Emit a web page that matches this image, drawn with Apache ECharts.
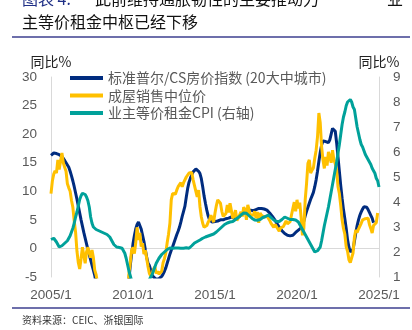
<!DOCTYPE html>
<html>
<head>
<meta charset="utf-8">
<script src="https://cdn.jsdelivr.net/npm/echarts@6/dist/echarts.min.js"></script>
<style>
html,body{margin:0;padding:0;background:#fff;}
#chart{width:412px;height:330px;}
</style>
</head>
<body>
<div id="chart"></div>
<script>
// Monthly categories 2005/1 .. 2025/1
var categories = [];
for (var y = 2005; y <= 2025; y++) {
  for (var m = 1; m <= 12; m++) {
    if (y === 2025 && m > 1) break;
    categories.push(y + '/' + m);
  }
}
var xTickLabels = ['2005/1', '2010/1', '2015/1', '2020/1', '2025/1'];
var leftTicks = [-5, 0, 5, 10, 15, 20, 25, 30];
var rightTicks = [1, 2, 3, 4, 5, 6, 7, 8, 9];

var seriesNames = ['标准普尔/CS房价指数 (20大中城市)', '成屋销售中位价', '业主等价租金CPI (右轴)'];

// S&P/Case-Shiller 20-city YoY %, 2005/1 .. 2024/9
var csIndex = [
  16.3, 16.5, 16.7, 16.7, 16.6, 16.5, 16.4, 16.3, 16.1, 15.8, 15.4, 15.0,
  14.6, 14.2, 13.5, 12.7, 11.8, 10.8, 9.7, 8.6, 7.4, 6.2, 5.0, 3.9,
  2.8, 1.8, 0.8, -0.2, -1.1, -2.0, -2.9, -3.8, -4.7, -6.1, -7.7, -9.1,
  -10.7, -12.7, -14.4, -15.3, -15.8, -15.9, -16.3, -17.4, -17.9, -18.1, -18.2, -18.6,
  -18.9, -18.8, -18.6, -18.1, -17.0, -15.4, -13.3, -11.3, -8.5, -5.5, -3.0, -1.0,
  0.8, 2.2, 3.4, 4.2, 4.6, 4.3, 3.4, 2.3, 1.2, -0.2, -1.5, -2.6,
  -3.0, -3.8, -4.6, -5.0, -5.3, -5.4, -5.4, -5.3, -5.1, -4.9, -4.5, -4.0,
  -3.4, -2.6, -1.8, -1.0, -0.3, 0.3, 1.0, 1.7, 2.4, 3.0, 3.7, 4.6,
  5.6, 6.5, 7.4, 9.0, 10.5, 11.6, 12.3, 12.9, 13.4, 13.7, 13.9, 13.8,
  13.5, 13.1, 12.2, 10.8, 9.2, 7.9, 6.7, 5.7, 5.0, 4.7, 4.6, 4.6,
  4.7, 4.8, 4.8, 4.9, 5.0, 5.0, 5.0, 5.1, 5.2, 5.3, 5.3, 5.4,
  5.5, 5.4, 5.3, 5.3, 5.3, 5.4, 5.6, 5.8, 6.0, 6.2, 6.3, 6.4,
  6.5, 6.6, 6.7, 6.6, 6.6, 6.7, 6.8, 6.9, 7.0, 7.0, 7.0, 7.0,
  6.9, 6.9, 6.7, 6.5, 6.2, 5.9, 5.6, 5.3, 4.9, 4.5, 4.1, 3.7,
  3.4, 3.1, 2.8, 2.6, 2.4, 2.3, 2.2, 2.2, 2.2, 2.3, 2.5, 2.8,
  3.0, 3.2, 3.4, 3.6, 4.0, 4.8, 5.7, 6.5, 7.2, 7.9, 8.6, 9.2,
  9.8, 10.8, 12.0, 13.5, 15.2, 16.8, 18.1, 18.8, 19.0, 18.7, 18.4, 18.5,
  19.0, 20.0, 21.0, 21.2, 20.5, 18.5, 16.0, 13.5, 11.0, 8.8, 6.8, 5.2,
  3.5, 1.5, 0.2, -0.6, -0.7, -0.2, 1.2, 2.7, 4.0, 5.0, 5.8, 6.4,
  6.9, 7.3, 7.4, 7.2, 6.8, 6.3, 5.8, 5.3, 4.5
];

// Existing-home median sales price YoY %, 2005/1 .. 2024/12
var medianPrice = [
  9.6, 11.8, 13.0, 13.6, 13.2, 15.5, 13.8, 15.3, 16.7, 15.0, 14.2, 13.5,
  11.3, 10.6, 10.0, 8.4, 7.2, 4.8, 2.8, -0.5, -2.5, -3.6, -1.8, 0.2,
  -1.2, -2.6, -0.6, 0.2, -0.8, -1.6, -0.3, -1.6, -3.8, -4.6, -6.0, -8.0,
  -8.5, -10.5, -8.0, -8.8, -7.5, -7.0, -8.5, -9.5, -9.7, -12.5, -13.5, -13.0,
  -14.8, -15.5, -12.4, -15.4, -16.8, -15.6, -15.1, -12.5, -8.5, -4.5, -2.5, -0.3,
  0.2, -0.9, 1.0, 3.7, 1.5, 2.7, 0.3, 0.9, -1.0, -0.3, -1.7, -3.2,
  -4.4, -4.8, -4.4, -3.6, -3.2, -4.4, -4.0, -4.5, -4.7, -4.0, -2.5, -1.8,
  -0.8, 1.0, 2.5, 4.4, 8.5, 9.6, 9.5, 9.5, 10.2, 10.8, 10.6, 11.5,
  10.8, 11.5, 11.3, 12.5, 12.8, 13.2, 13.4, 13.3, 12.0, 11.0, 10.0, 9.0,
  10.2, 7.3, 5.5, 4.4, 3.7, 4.0, 4.0, 4.6, 5.0, 5.8, 5.2, 4.6,
  6.2, 7.5, 8.5, 8.8, 7.9, 6.5, 5.6, 5.3, 6.1, 7.6, 6.3, 7.9,
  8.2, 5.3, 5.7, 6.7, 4.9, 5.3, 5.3, 6.4, 5.6, 7.2, 6.8, 5.0,
  7.6, 7.9, 5.8, 6.0, 5.8, 6.5, 5.3, 6.4, 4.5, 6.2, 5.8, 5.8,
  5.5, 5.8, 5.7, 5.3, 4.9, 4.4, 4.5, 3.7, 4.2, 3.8, 4.0, 3.0,
  3.6, 3.6, 3.8, 3.6, 4.8, 4.3, 4.4, 4.7, 5.9, 7.0, 8.1, 6.5,
  8.5, 7.0, 8.0, 5.5, 2.3, 3.5, 8.5, 11.4, 14.9, 15.5, 13.2, 13.7,
  14.1, 15.8, 17.2, 19.5, 23.7, 22.0, 17.8, 15.5, 14.0, 16.0, 14.5, 16.9,
  16.0, 15.0, 17.2, 15.5, 14.8, 13.7, 10.8, 9.6, 7.5, 5.0, 3.5, 2.5,
  0.3, -0.5, -2.0, -2.5, -2.5, -0.8, 1.9, 3.2, 2.8, 3.4, 3.7, 4.4,
  5.0, 5.0, 5.2, 5.5, 5.3, 4.2, 3.5, 2.7, 4.0, 3.7, 4.5, 6.2
];

// Owners' equivalent rent CPI YoY % (right axis), 2005/1 .. 2025/1
var oerCpi = [
  2.5, 2.5, 2.55, 2.5, 2.4, 2.3, 2.2, 2.2, 2.25, 2.3, 2.35, 2.4,
  2.45, 2.55, 2.65, 2.8, 2.95, 3.15, 3.4, 3.6, 3.85, 4.1, 4.25, 4.35,
  4.35, 4.3, 4.2, 4.05, 3.8, 3.4, 3.15, 3.0, 2.95, 2.9, 2.9, 2.85,
  2.85, 2.8, 2.78, 2.75, 2.72, 2.7, 2.65, 2.6, 2.5, 2.4, 2.3, 2.25,
  2.2, 2.2, 2.18, 2.16, 2.15, 2.1, 1.95, 1.75, 1.5, 1.25, 1.05, 0.85,
  0.6, 0.4, 0.2, 0.1, 0.0, -0.1, -0.1, 0.0, 0.1, 0.3, 0.5, 0.7,
  0.9, 1.0, 1.1, 1.25, 1.4, 1.55, 1.65, 1.75, 1.8, 1.9, 1.95, 2.0,
  2.05, 2.1, 2.15, 2.16, 2.16, 2.15, 2.15, 2.16, 2.17, 2.16, 2.15, 2.15,
  2.16, 2.15, 2.15, 2.17, 2.16, 2.15, 2.18, 2.25, 2.3, 2.36, 2.4, 2.42,
  2.45, 2.48, 2.5, 2.55, 2.6, 2.6, 2.62, 2.64, 2.66, 2.68, 2.68, 2.72,
  2.76, 2.8, 2.85, 2.9, 2.95, 3.0, 3.05, 3.1, 3.12, 3.16, 3.18, 3.2,
  3.2, 3.22, 3.25, 3.3, 3.35, 3.38, 3.42, 3.48, 3.52, 3.56, 3.6, 3.55,
  3.5, 3.45, 3.4, 3.35, 3.3, 3.28, 3.28, 3.27, 3.28, 3.3, 3.35, 3.38,
  3.4, 3.42, 3.45, 3.48, 3.45, 3.38, 3.3, 3.28, 3.25, 3.22, 3.2, 3.22,
  3.25, 3.3, 3.35, 3.4, 3.38, 3.35, 3.32, 3.3, 3.28, 3.3, 3.3, 3.28,
  3.25, 3.2, 3.1, 3.0, 2.9, 2.8, 2.7, 2.6, 2.5, 2.4, 2.3, 2.2,
  2.1, 2.0, 2.0, 2.05, 2.1, 2.2, 2.45, 2.75, 3.05, 3.3, 3.55, 3.8,
  4.1, 4.4, 4.7, 5.0, 5.3, 5.6, 5.95, 6.3, 6.7, 7.1, 7.4, 7.6,
  7.85, 8.0, 8.05, 8.1, 8.0, 7.8, 7.7, 7.35, 7.0, 6.75, 6.5, 6.3,
  6.2, 6.05, 5.9, 5.8, 5.7, 5.6, 5.5, 5.35, 5.25, 5.15, 4.95, 4.85,
  4.6
];

var colors = ['#002c7f', '#ffc000', '#00a19a'];
var cjk = '"Noto Sans CJK SC", "Noto Sans", sans-serif';
var latin = '"Liberation Sans", Arial, sans-serif';

var chart = echarts.init(document.getElementById('chart'), null, {renderer: 'canvas'});
chart.setOption({
  animation: false,
  backgroundColor: '#ffffff',
  color: colors,
  grid: {left: 51, right: 33, top: 77, bottom: 53, containLabel: false},
  legend: {
    orient: 'vertical',
    left: 65,
    top: 66,
    itemWidth: 33,
    itemHeight: 4,
    itemGap: 3.5,
    icon: 'rect',
    textStyle: {color: '#595959', fontSize: 14, fontFamily: cjk},
    data: seriesNames
  },
  xAxis: {
    type: 'category',
    data: categories,
    boundaryGap: false,
    axisLine: {show: false, onZero: false},
    axisTick: {show: false},
    splitLine: {show: false},
    axisLabel: {
      color: '#595959',
      fontSize: 13.5,
      fontFamily: latin,
      margin: 11,
      interval: function (idx, val) { return xTickLabels.indexOf(val) >= 0; },
      showMaxLabel: true
    }
  },
  yAxis: [
    {
      type: 'value',
      position: 'left',
      min: leftTicks[0],
      max: leftTicks[leftTicks.length - 1],
      interval: 5,
      name: '同比%',
      nameLocation: 'end',
      nameGap: 8,
      nameTextStyle: {color: '#222222', fontSize: 14, fontFamily: cjk, align: 'center'},
      axisLine: {show: true, lineStyle: {color: '#d9d9d9', width: 1}},
      axisTick: {show: false},
      axisLabel: {color: '#595959', fontSize: 13.5, fontFamily: latin, margin: 14},
      splitLine: {
        show: true,
        lineStyle: {
          color: ['rgba(0,0,0,0)', '#d9d9d9', 'rgba(0,0,0,0)', 'rgba(0,0,0,0)', 'rgba(0,0,0,0)', 'rgba(0,0,0,0)', 'rgba(0,0,0,0)', 'rgba(0,0,0,0)'],
          width: 1
        }
      }
    },
    {
      type: 'value',
      position: 'right',
      min: rightTicks[0],
      max: rightTicks[rightTicks.length - 1],
      interval: 1,
      name: '同比%',
      nameLocation: 'end',
      nameGap: 8,
      nameTextStyle: {color: '#222222', fontSize: 14, fontFamily: cjk, align: 'center'},
      axisLine: {show: true, lineStyle: {color: '#d9d9d9', width: 1}},
      axisTick: {show: false},
      axisLabel: {color: '#595959', fontSize: 13.5, fontFamily: latin, margin: 14},
      splitLine: {show: false}
    }
  ],
  series: [
    {
      name: seriesNames[0], type: 'line', data: csIndex, yAxisIndex: 0,
      showSymbol: false, symbol: 'none', clip: true,
      lineStyle: {width: 3, color: colors[0]}, z: 2
    },
    {
      name: seriesNames[1], type: 'line', data: medianPrice, yAxisIndex: 0,
      showSymbol: false, symbol: 'none', clip: true,
      lineStyle: {width: 3, color: colors[1]}, z: 3
    },
    {
      name: seriesNames[2], type: 'line', data: oerCpi, yAxisIndex: 1,
      showSymbol: false, symbol: 'none', clip: true,
      lineStyle: {width: 3, color: colors[2]}, z: 4
    }
  ],
  graphic: [
    {type: 'text', x: 22, y: -1, style: {text: '图表 4:', fill: '#1f2f86', font: '16px ' + cjk, verticalAlign: 'middle'}},
    {type: 'text', x: 95, y: -1, style: {text: '此前维持通胀韧性的主要推动力', fill: '#111111', font: '16px ' + cjk, verticalAlign: 'middle'}},
    {type: 'text', x: 387, y: -1, style: {text: '业', fill: '#111111', font: '16px ' + cjk, verticalAlign: 'middle'}},
    {type: 'text', x: 22, y: 22, style: {text: '主等价租金中枢已经下移', fill: '#111111', font: '16px ' + cjk, verticalAlign: 'middle'}},
    {type: 'line', shape: {x1: 12, y1: 37, x2: 410, y2: 37}, style: {stroke: '#3d3f8f', lineWidth: 1.5}},
    {type: 'line', shape: {x1: 12, y1: 308, x2: 410, y2: 308}, style: {stroke: '#3d3f8f', lineWidth: 1.5}},
    {type: 'text', x: 22, y: 320, style: {text: '资料来源：CEIC、浙银国际', fill: '#333333', font: '10px ' + cjk, verticalAlign: 'middle'}}
  ]
});
</script>
</body>
</html>
